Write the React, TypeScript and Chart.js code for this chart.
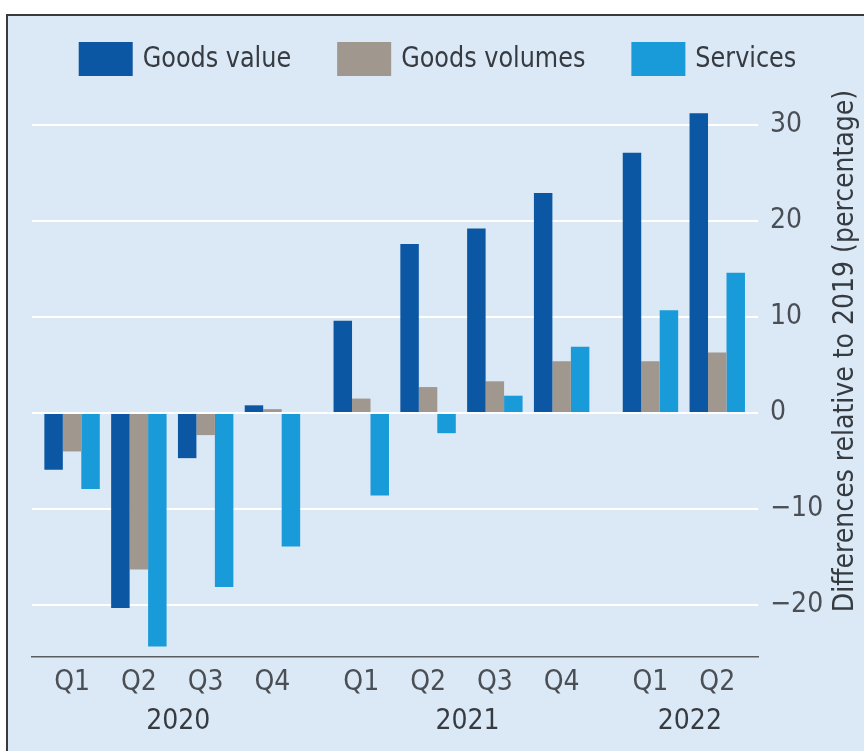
import React, { useEffect, useRef } from 'react';
import { Chart, registerables } from 'chart.js';

Chart.register(...registerables);

// ---- data ----
const quarters = ['Q1', 'Q2', 'Q3', 'Q4', 'Q1', 'Q2', 'Q3', 'Q4', 'Q1', 'Q2'];
const quarterYears = ['2020', '2020', '2020', '2020', '2021', '2021', '2021', '2021', '2022', '2022'];
const years = ['2020', '2021', '2022'];
const seriesNames = ['Goods value', 'Goods volumes', 'Services'];
const goodsValue = [-5.9, -20.3, -4.7, 0.8, 9.6, 17.6, 19.2, 22.9, 27.1, 31.2];
const goodsVolumes = [-4.0, -16.3, -2.3, 0.4, 1.5, 2.7, 3.3, 5.4, 5.4, 6.3];
const services = [-7.9, -24.3, -18.1, -13.9, -8.6, -2.1, 1.8, 6.9, 10.7, 14.6];
const yTicks = [-20, -10, 0, 10, 20, 30];
const yTitle = 'Differences relative to 2019 (percentage)';

// ---- style ----
const COLORS = ['#0b57a3', '#a0978f', '#189bd8'];
const BG = '#dbe8f5';
const FONT = "'Liberation Sans Narrow', 'DejaVu Sans Condensed', 'Roboto Condensed', Roboto, sans-serif";
const FS = 28;
const TEXT = '#363b41';
const TICK = '#4a4f55';
const YEAR_GAP = 0.33;
const LEGEND_SQUEEZE = 0.95;

const positions = quarters.map((_, i) => i + years.indexOf(quarterYears[i]) * YEAR_GAP);
const yearPositions = years.map((y) => {
  const ps = positions.filter((_, i) => quarterYears[i] === y);
  return ps.reduce((a, b) => a + b, 0) / ps.length + 0.09;
});

const legendPlugin = {
  id: 'customLegend',
  afterDraw(chart: any) {
    const ctx = chart.ctx;
    ctx.save();
    ctx.font = `${FS}px ${FONT}`;
    const boxW = 54, boxH = 34, textGap = 10, itemGap = 46, top = 42;
    const widths = seriesNames.map((n) => ctx.measureText(n).width * LEGEND_SQUEEZE);
    const total = widths.reduce((a, w) => a + boxW + textGap + w, 0) + itemGap * (seriesNames.length - 1);
    let x = 437.5 - total / 2;
    seriesNames.forEach((n, i) => {
      ctx.fillStyle = COLORS[i];
      ctx.fillRect(x, top, boxW, boxH);
      ctx.fillStyle = TEXT;
      ctx.textBaseline = 'middle';
      ctx.textAlign = 'left';
      ctx.save();
      ctx.translate(x + boxW + textGap, top + boxH / 2 + 1);
      ctx.scale(LEGEND_SQUEEZE, 1);
      ctx.fillText(n, 0, 0);
      ctx.restore();
      x += boxW + textGap + widths[i] + itemGap;
    });
    ctx.restore();
  },
};

const yTitlePlugin = {
  id: 'yTitle',
  afterDraw(chart: any) {
    const ctx = chart.ctx;
    ctx.save();
    ctx.font = `${FS}px ${FONT}`;
    ctx.fillStyle = TEXT;
    ctx.translate(846, 351);
    ctx.rotate(-Math.PI / 2);
    ctx.textAlign = 'center';
    ctx.textBaseline = 'middle';
    ctx.fillText(yTitle, 0, 0);
    ctx.restore();
  },
};

export default function App() {
  const ref = useRef<HTMLCanvasElement | null>(null);

  useEffect(() => {
    if (!ref.current) return;
    const series = [goodsValue, goodsVolumes, services];
    const chart = new Chart(ref.current, {
      type: 'bar',
      data: {
        datasets: series.map((vals, k) => ({
          label: seriesNames[k],
          data: vals.map((v, i) => ({ x: positions[i], y: v })),
          backgroundColor: COLORS[k],
          borderWidth: 0,
          categoryPercentage: 0.83,
          barPercentage: 1,
          xAxisID: 'x',
        })),
      },
      options: {
        responsive: false,
        animation: false,
        layout: { padding: { left: 32, top: 96, right: 20, bottom: 0 } },
        plugins: {
          legend: { display: false },
          tooltip: { enabled: false },
        },
        scales: {
          x: {
            type: 'linear',
            position: 'bottom',
            weight: 0,
            min: -0.6,
            max: 10.27,
            offset: false,
            grid: { display: false, offset: false, drawTicks: false },
            border: { display: true, color: '#5a5d60', width: 1.5 },
            afterBuildTicks: (s: any) => {
              s.ticks = positions.map((v) => ({ value: v }));
            },
            afterFit: (s: any) => {
              s.height = 40;
            },
            ticks: {
              autoSkip: false,
              maxRotation: 0,
              padding: 9,
              color: TICK,
              font: { family: FONT, size: FS },
              callback: (v: any) => {
                const i = positions.findIndex((p) => Math.abs(p - Number(v)) < 1e-6);
                return i >= 0 ? quarters[i] : '';
              },
            },
          },
          year: {
            type: 'linear',
            position: 'bottom',
            weight: 1,
            min: -0.6,
            max: 10.27,
            offset: false,
            grid: { display: false, drawTicks: false },
            border: { display: false },
            afterBuildTicks: (s: any) => {
              s.ticks = yearPositions.map((v) => ({ value: v }));
            },
            afterFit: (s: any) => {
              s.height = 54;
            },
            ticks: {
              autoSkip: false,
              maxRotation: 0,
              padding: 8,
              color: TEXT,
              font: { family: FONT, size: FS },
              callback: (v: any) => {
                const i = yearPositions.findIndex((p) => Math.abs(p - Number(v)) < 1e-6);
                return i >= 0 ? years[i] : '';
              },
            },
          },
          y: {
            type: 'linear',
            position: 'right',
            min: -25.4,
            max: 33,
            grid: { color: '#ffffff', lineWidth: 2, drawTicks: false },
            border: { display: false },
            afterBuildTicks: (s: any) => {
              s.ticks = yTicks.map((v) => ({ value: v }));
            },
            afterFit: (s: any) => {
              s.width = 86;
            },
            ticks: {
              padding: 12,
              color: TICK,
              font: { family: FONT, size: FS },
              callback: (v: any) => (Number(v) < 0 ? '\u2212' + Math.abs(Number(v)) : String(v)),
            },
          },
        },
      },
      plugins: [legendPlugin, yTitlePlugin],
    });
    return () => chart.destroy();
  }, []);

  return (
    <div style={{ position: 'fixed', left: 0, top: 0, width: 864, height: 751, background: '#ffffff', overflow: 'hidden' }}>
      <div
        style={{
          position: 'absolute',
          left: 6,
          top: 14,
          right: 0,
          bottom: 0,
          background: BG,
          borderTop: '2px solid #3a3a3a',
          borderLeft: '2px solid #3a3a3a',
        }}
      />
      <canvas ref={ref} width={864} height={751} style={{ position: 'absolute', left: 0, top: 0, width: 864, height: 751 }} />
    </div>
  );
}
